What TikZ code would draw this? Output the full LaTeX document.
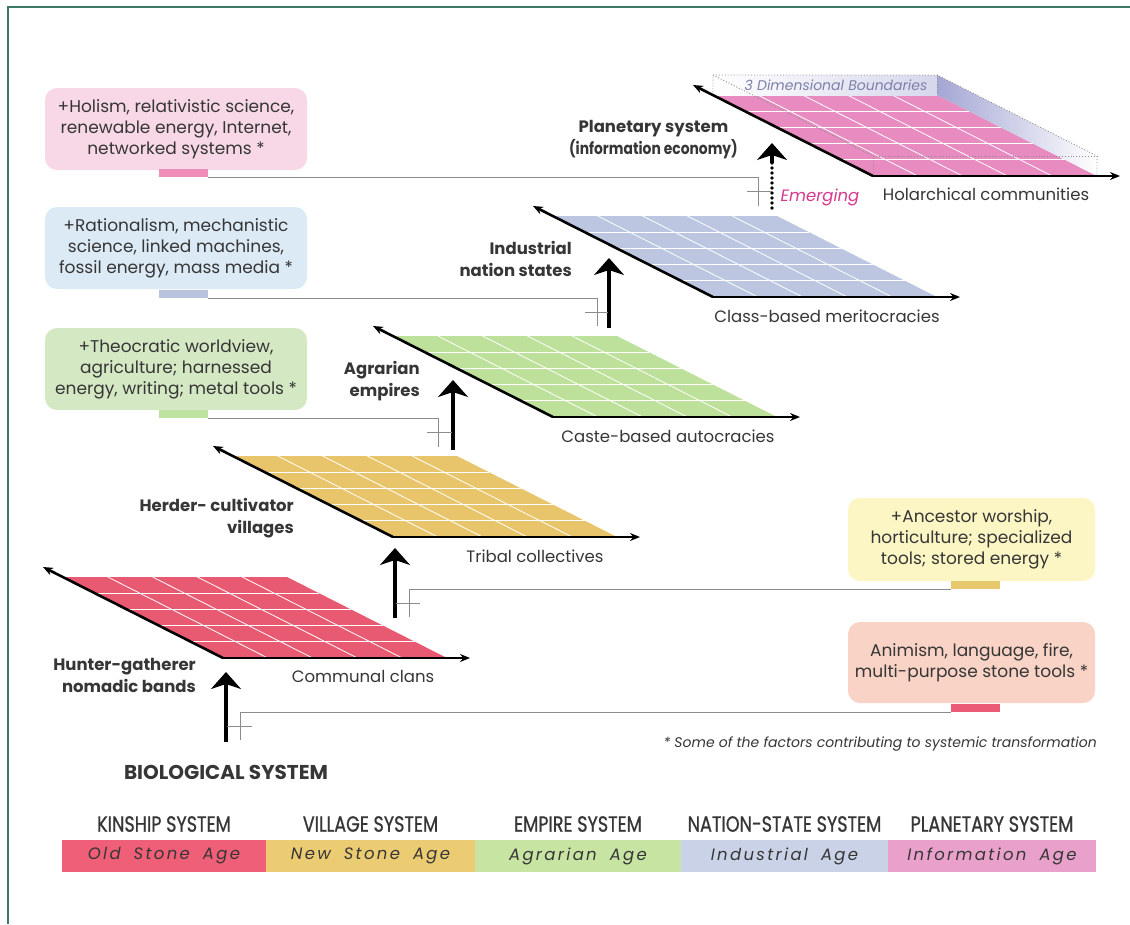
\documentclass[tikz,border=0pt]{standalone}
\usepackage{fontspec}
\setmainfont{Poppins}
\newfontfamily\condfont[FakeStretch=0.8,FakeBold=0.8]{Poppins}
\newfontfamily\narrowfont[FakeStretch=0.84]{Poppins}
\newfontfamily\spacedfont[LetterSpace=14,WordSpace=1.8]{Poppins}
\usetikzlibrary{arrows.meta}
\definecolor{txtgray}{HTML}{363636}
\definecolor{frameteal}{HTML}{3E7A68}
\definecolor{connGray}{HTML}{8C8C8C}
\definecolor{planeA}{HTML}{E85A72}
\definecolor{planeB}{HTML}{E8C56A}
\definecolor{planeC}{HTML}{BDE09A}
\definecolor{planeD}{HTML}{BCC6E0}
\definecolor{planeE}{HTML}{E78BC0}
\definecolor{boxA}{HTML}{F8D8E6}
\definecolor{boxB}{HTML}{DCEAF5}
\definecolor{boxC}{HTML}{D5E8C4}
\definecolor{boxD}{HTML}{FCF6C4}
\definecolor{boxE}{HTML}{F9D3C6}
\definecolor{barA}{HTML}{EF8DB8}
\definecolor{barB}{HTML}{B9C3DD}
\definecolor{barC}{HTML}{BEE2A0}
\definecolor{barD}{HTML}{E8C86C}
\definecolor{barE}{HTML}{EC5B76}
\definecolor{ageA}{HTML}{EF5F77}
\definecolor{ageB}{HTML}{ECCC72}
\definecolor{ageC}{HTML}{C7E4A3}
\definecolor{ageD}{HTML}{C9D2E6}
\definecolor{ageE}{HTML}{E9A1CB}
\definecolor{emergeCol}{HTML}{D6398F}
\definecolor{lavender}{HTML}{A4A6D4}
\definecolor{dimText}{HTML}{7D7FA8}
\begin{document}
\begin{tikzpicture}[x=1pt,y=-1pt,
  gridline/.style={white, line width=0.8pt},
  axisline/.style={line width=2.6pt, -{Stealth[length=10pt,width=8pt]}},
  uparrow/.style={line width=3.6pt, -{Stealth[length=17pt,width=30pt,inset=5pt]}},
  conn/.style={connGray, line width=1pt},
  lbl/.style={text=txtgray, font=\fontsize{16.5}{20}\selectfont, inner sep=0pt},
  boldlbl/.style={text=txtgray, font=\fontsize{16.5}{22}\selectfont\bfseries, inner sep=0pt, align=right},
  factbox/.style={rounded corners=12pt, minimum width=262pt, minimum height=82pt, align=center, text=txtgray, font=\fontsize{17}{21}\selectfont, inner sep=2pt},
  barnode/.style={minimum width=49pt, minimum height=8pt, inner sep=0pt},
  agebar/.style={minimum height=32pt, inner sep=0pt, text=txtgray, font=\spacedfont\itshape\fontsize{16.5}{18}\selectfont},
  agehead/.style={text=txtgray, font=\condfont\fontsize{22}{24}\selectfont, inner sep=0pt},
  dots/.style={connGray, line width=0.9pt, dotted}
]
\useasboundingbox (0,0) rectangle (1130,924);
\fill[white] (0,0) rectangle (1130,924);
\draw[frameteal, line width=2.2pt] (8,924) -- (8,7) -- (1130,7);

% ---------- planes ----------
\foreach \bx/\by/\col/\nm in {223/658/planeA/pA, 393/537/planeB/pB, 553/417/planeC/pC, 713/297/planeD/pD, 873/176/planeE/pE}{
  \begin{scope}[shift={(\bx,\by)}]
    \fill[\col] (0,0) -- (224,0) -- (64,-81) -- (-160,-81) -- cycle;
    \foreach \i in {1,...,4}{
      \draw[gridline] ({-32*\i},{-16.2*\i}) -- ++(224,0);
      \draw[gridline] ({44.8*\i},0) -- ++(-160,-81);
    }
    \coordinate (\nm) at (0,0);
    \coordinate (\nm l) at (-180,-91);
    \coordinate (\nm r) at (247,0);
  \end{scope}
}

% 3D boundaries on planetary plane
\shade[left color=lavender, right color=white]
  (937,75) -- (1097,156) -- (1097,176) -- (937,95) -- cycle;
\shade[left color=white, right color=lavender!45] (713,75) rectangle (937,95);
\draw[dots] (713,95) -- (713,75) -- (937,75) -- (1097,156) -- (1097,176);
\draw[dots] (937,75) -- (937,95);
\draw[dots] (713,75) -- (873,156);
\draw[dots] (873,176) -- (873,156) -- (1097,156);
\node[text=dimText, font=\itshape\fontsize{14}{16}\selectfont, inner sep=0pt] (dimlbl) at (836,85) {3 Dimensional Boundaries};

% axes
\foreach \nm in {pA,pB,pC,pD,pE}{
  \draw[axisline] (\nm) -- (\nm l);
  \draw[axisline] (\nm) -- (\nm r);
}

% ---------- plane labels ----------
\node[lbl] (lA) at (363,676) {Communal clans};
\node[lbl] (lB) at (535,556) {Tribal collectives};
\node[lbl] (lC) at (668,436) {Caste-based autocracies};
\node[lbl] (lD) at (827,316) {Class-based meritocracies};
\node[lbl] (lE) at (986,194) {Holarchical communities};
\node[lbl, text=emergeCol, font=\itshape\fontsize{16.5}{20}\selectfont] (emerg) at (820,197) {Emerging};

\node[boldlbl, anchor=east] (sA) at (196,675.5) {Hunter-gatherer\\nomadic bands};
\node[boldlbl, anchor=east] (sB) at (294,518.5) {Herder- cultivator\\villages};
\node[boldlbl, anchor=east] (sC) at (420,381.5) {Agrarian\\empires};
\node[boldlbl, anchor=east] (sD) at (572,258.5) {Industrial\\nation states};
\node[boldlbl, anchor=east, align=center] (sE) at (738,139.5) {Planetary system\\{\narrowfont\bfseries (information economy)}};
\node[boldlbl, align=center, font=\fontsize{20}{22}\selectfont\bfseries] (bio) at (226,772) {BIOLOGICAL SYSTEM};
\node[text=txtgray, font=\itshape\fontsize{14}{16}\selectfont, inner sep=0pt, anchor=east] (foot) at (1097,744) {* Some of the factors contributing to systemic transformation};

% ---------- vertical arrows ----------
\coordinate (aA0) at (226,742); \coordinate (aA1) at (226,672);
\coordinate (aB0) at (395,618); \coordinate (aB1) at (395,548);
\coordinate (aC0) at (453,450); \coordinate (aC1) at (453,380);
\coordinate (aD0) at (609,328); \coordinate (aD1) at (609,258);
\coordinate (aE0) at (772,208); \coordinate (aE1) at (772,163); \coordinate (aE2) at (772,143);
\draw[uparrow] (aA0) -- (aA1);
\draw[uparrow] (aB0) -- (aB1);
\draw[uparrow] (aC0) -- (aC1);
\draw[uparrow] (aD0) -- (aD1);
\draw[line width=3.6pt, line cap=round, dash pattern=on 0pt off 5pt] (aE0) -- (aE1);
\draw[uparrow] (aE1) -- (aE2);

% ---------- factor boxes ----------
\node[factbox, fill=boxA] (fA) at (176,129) {+Holism, relativistic science,\\renewable energy, Internet,\\networked systems *};
\node[factbox, fill=boxB] (fB) at (176,248) {+Rationalism, mechanistic\\science, linked machines,\\fossil energy, mass media *};
\node[factbox, fill=boxC] (fC) at (176,369) {+Theocratic worldview,\\agriculture; harnessed\\energy, writing; metal tools *};
\node[factbox, fill=boxD, minimum width=247pt, minimum height=83pt] (fD) at (971.5,539.5) {+Ancestor worship,\\horticulture; specialized\\tools; stored energy *};
\node[factbox, fill=boxE, minimum width=247pt, minimum height=81pt] (fE) at (971.5,662.5) {Animism, language, fire,\\multi-purpose stone tools *};

\node[barnode, fill=barA] (bA) at (183.5,173) {};
\node[barnode, fill=barB] (bB) at (183.5,294) {};
\node[barnode, fill=barC] (bC) at (183.5,414) {};
\node[barnode, fill=barD] (bD) at (975.5,585) {};
\node[barnode, fill=barE] (bE) at (975.5,708) {};

% ---------- connectors ----------
\coordinate (kE) at (758,206);
\coordinate (kD) at (597,326);
\coordinate (kC) at (438,447);
\coordinate (kB) at (409,617);
\coordinate (kA) at (240,740);
\draw[conn] (bA.south east) -| (kE);
\draw[conn] (bB.south east) -| (kD);
\draw[conn] (bC.south east) -| (kC);
\draw[conn] (bD.south west) -| (kB);
\draw[conn] (bE.south west) -| (kA);
\coordinate (tE0) at (747,191); \coordinate (tE1) at (771,191);
\coordinate (tD0) at (585,312); \coordinate (tD1) at (608,312);
\coordinate (tC0) at (427,432); \coordinate (tC1) at (452,432);
\coordinate (tB0) at (396,603); \coordinate (tB1) at (420,603);
\coordinate (tA0) at (227,726); \coordinate (tA1) at (252,726);
\draw[conn] (tE0) -- (tE1);
\draw[conn] (tD0) -- (tD1);
\draw[conn] (tC0) -- (tC1);
\draw[conn] (tB0) -- (tB1);
\draw[conn] (tA0) -- (tA1);

% ---------- age bar ----------
\node[agebar, fill=ageA, minimum width=204pt] (gA) at (164,856) {Old Stone Age};
\node[agebar, fill=ageB, minimum width=209pt] (gB) at (370.5,856) {New Stone Age};
\node[agebar, fill=ageC, minimum width=206pt] (gC) at (578,856) {Agrarian Age};
\node[agebar, fill=ageD, minimum width=207pt] (gD) at (784.5,856) {Industrial Age};
\node[agebar, fill=ageE, minimum width=208pt] (gE) at (992,856) {Information Age};
\node[agehead] (hA) at (164,824) {KINSHIP SYSTEM};
\node[agehead] (hB) at (370.5,824) {VILLAGE SYSTEM};
\node[agehead] (hC) at (578,824) {EMPIRE SYSTEM};
\node[agehead] (hD) at (784.5,824) {NATION-STATE SYSTEM};
\node[agehead] (hE) at (992,824) {PLANETARY SYSTEM};
\end{tikzpicture}
\end{document}
